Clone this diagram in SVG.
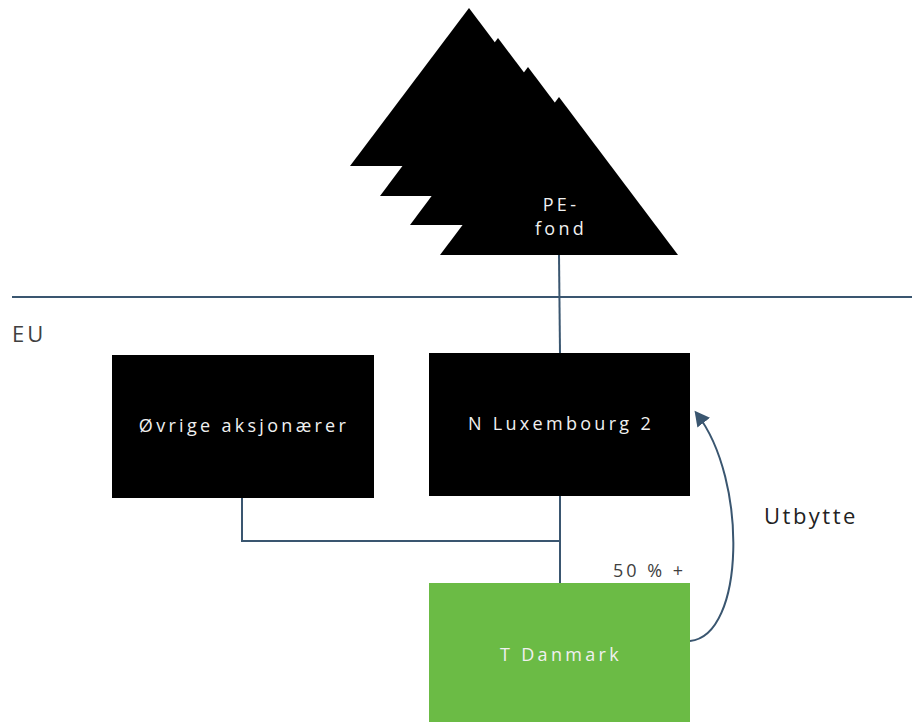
<svg xmlns="http://www.w3.org/2000/svg" width="920" height="722" viewBox="0 0 920 722">
<defs>
<style>
.lbl{font-family:"Open Sans","Liberation Sans",sans-serif;font-size:18px;fill:#f0f0f0;text-anchor:middle;letter-spacing:3.3px}
.con{fill:none;stroke:#3a5670;stroke-width:2}
.box{fill:#000}
</style>
<marker id="ah" markerWidth="16" markerHeight="16" refX="11" refY="8" orient="auto" markerUnits="userSpaceOnUse">
<path d="M0,0 L15,8 L0,16 Z" fill="#3a5670"/>
</marker>
</defs>
<rect width="920" height="722" fill="#fff"/>
<g id="pe-fond">
<polygon points="469,8 588,166 350,166" fill="#000"/>
<polygon points="498,38 617,196 380,196" fill="#000"/>
<polygon points="528,67 647,225 410,225" fill="#000"/>
<polygon points="559,97 678,255 440,255" fill="#000"/>
<text class="lbl" x="561" y="211">PE-</text>
<text class="lbl" x="561" y="235">fond</text>
</g>
<g id="eu-border">
<line x1="12" y1="297" x2="912" y2="297" stroke="#3a5670" stroke-width="2"/>
<text x="12" y="342" font-family="Open Sans, Liberation Sans, sans-serif" font-size="22" fill="#404040" letter-spacing="3">EU</text>
</g>
<g id="connectors">
<line class="con" x1="559" y1="255" x2="560" y2="353"/>
<polyline class="con" points="242,498 242,541 560,541"/>
<line class="con" x1="560" y1="496" x2="560" y2="583"/>
<path class="con" d="M690,641 C745,636 748,480 697,414" marker-end="url(#ah)"/>
</g>
<g id="ovrige">
<rect class="box" x="112" y="355" width="262" height="143"/>
<text class="lbl" x="244" y="432">Øvrige aksjonærer</text>
</g>
<g id="nlux">
<rect class="box" x="429" y="353" width="261" height="143"/>
<text class="lbl" x="561" y="430">N Luxembourg 2</text>
</g>
<g id="tdanmark">
<rect x="429" y="583" width="261" height="139" fill="#6bbb45"/>
<text class="lbl" x="561" y="661">T Danmark</text>
</g>
<text x="686" y="577" font-family="Open Sans, Liberation Sans, sans-serif" font-size="18" fill="#404040" text-anchor="end" letter-spacing="3">50 % +</text>
<text x="764" y="524" font-family="Open Sans, Liberation Sans, sans-serif" font-size="22" fill="#222" letter-spacing="2.5">Utbytte</text>
</svg>
